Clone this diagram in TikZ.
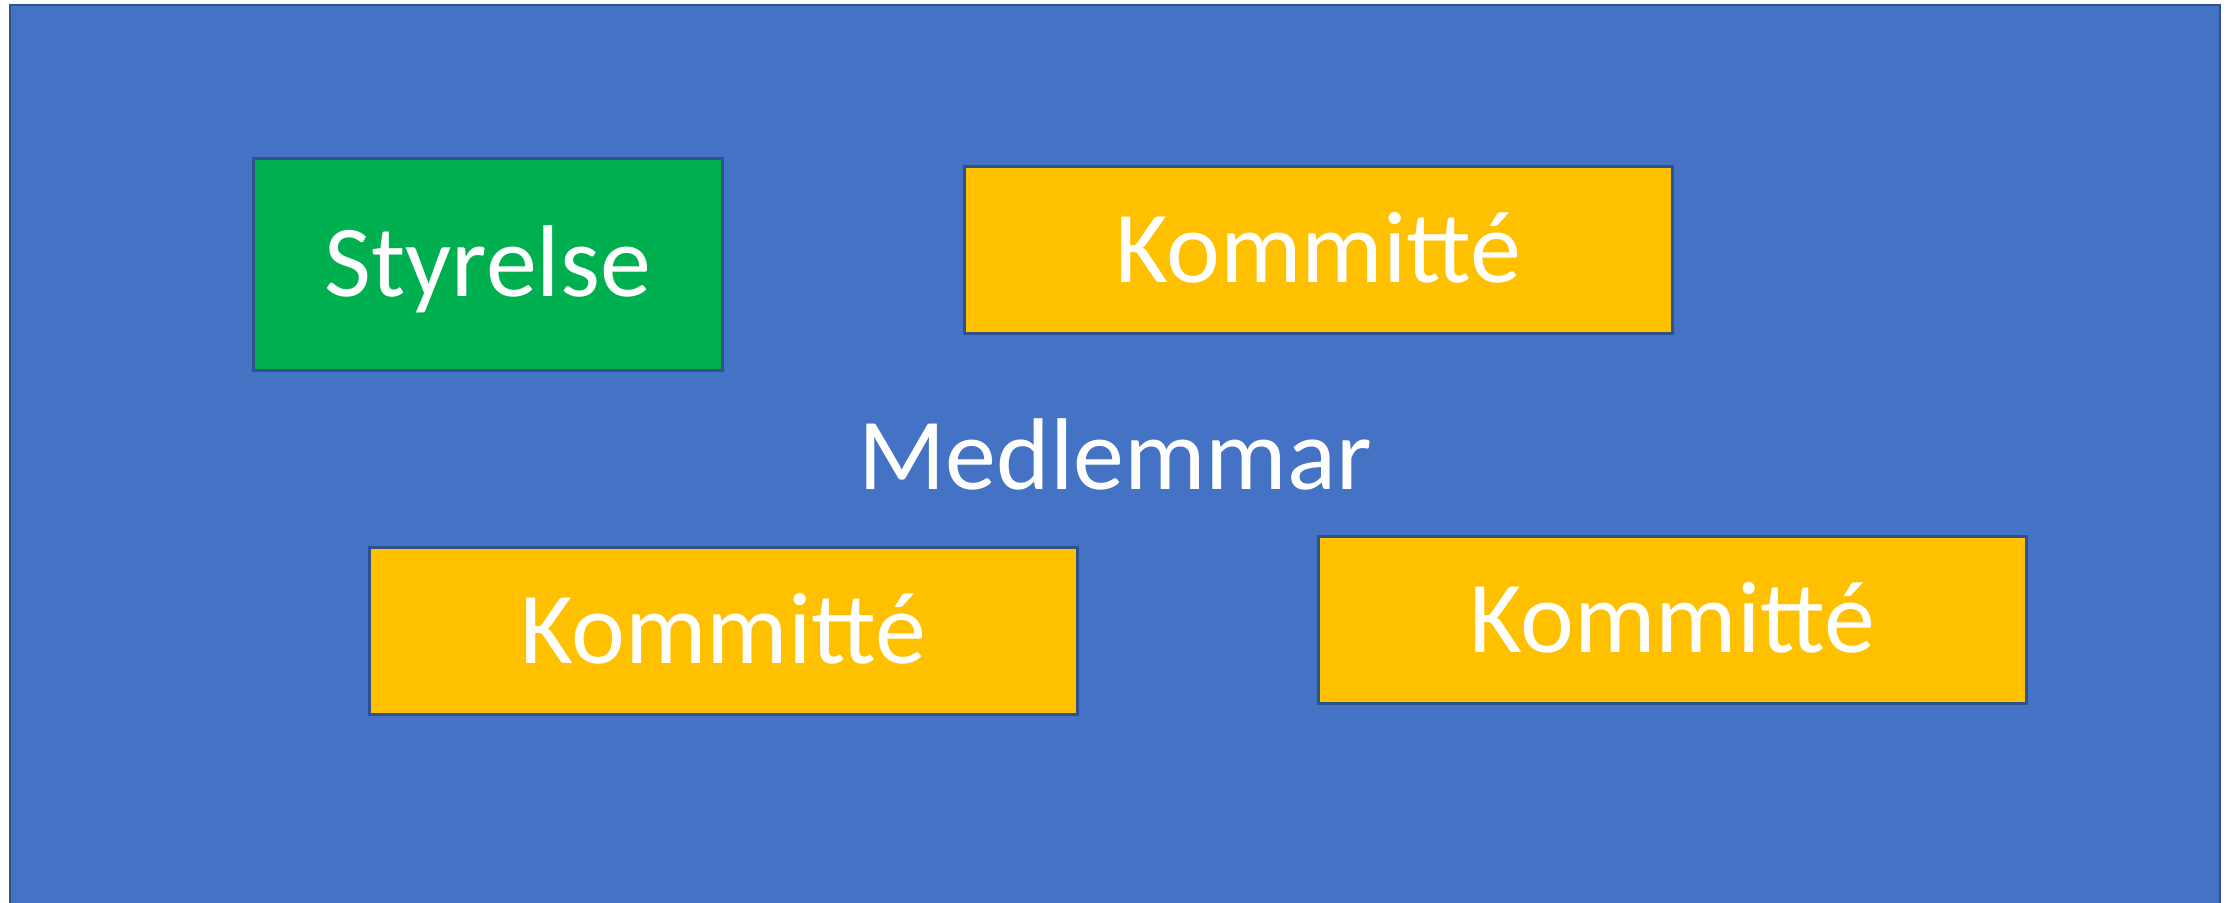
\documentclass[tikz,border=0pt]{standalone}
\usepackage{fontspec}
\setmainfont{Carlito}
\definecolor{panelblue}{HTML}{4472C4}
\definecolor{edgeblue}{HTML}{2F528F}
\definecolor{boardgreen}{HTML}{00B050}
\definecolor{committeegold}{HTML}{FFC000}
\begin{document}
\begin{tikzpicture}[x=1pt,y=-1pt,
  bigtext/.style={text=white,font=\fontsize{102}{122}\selectfont},
  unitbox/.style={bigtext,draw=edgeblue,line width=2.5pt,inner sep=0pt,
    anchor=north west,text height=64.5pt,text depth=0pt},
  boardbox/.style={unitbox,fill=boardgreen},
  committeebox/.style={unitbox,fill=committeegold,minimum width=708pt,minimum height=167pt}]
  \useasboundingbox (0,0) rectangle (2234,902);
  \fill[white] (0,0) rectangle (2234,902);
  \clip (0,0) rectangle (2234,902);
  % members panel
  \draw[edgeblue,fill=panelblue,line width=2.5pt] (10,5) rectangle (2220,930);
  \node[bigtext,anchor=base] (members) at (1115,489) {Medlemmar};
  % board and committees
  \node[boardbox,minimum width=469pt,minimum height=212pt] (board) at (252,157) {Styrelse};
  \node[committeebox] (comA) at (963,165) {Kommitté};
  \node[committeebox] (comB) at (368,546) {Kommitté};
  \node[committeebox] (comC) at (1317,535) {Kommitté};
\end{tikzpicture}
\end{document}
